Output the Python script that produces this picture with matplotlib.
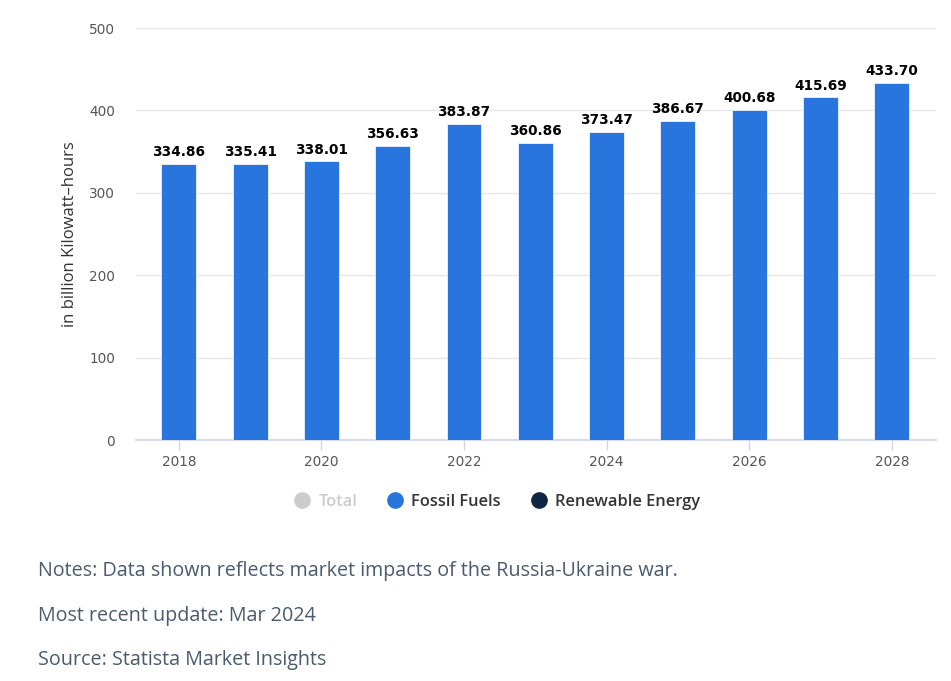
import matplotlib
matplotlib.use("Agg")
import matplotlib.pyplot as plt
from matplotlib.lines import Line2D

years = [2018, 2019, 2020, 2021, 2022, 2023, 2024, 2025, 2026, 2027, 2028]
fossil_fuels = [334.86, 335.41, 338.01, 356.63, 383.87, 360.86, 373.47, 386.67, 400.68, 415.69, 433.70]
y_ticks = [0, 100, 200, 300, 400, 500]
x_ticks = [2018, 2020, 2022, 2024, 2026, 2028]
legend_labels = ["Total", "Fossil Fuels", "Renewable Energy"]
legend_colors = ["#cccccc", "#2876dd", "#0f2541"]
notes = ["Notes: Data shown reflects market impacts of the Russia-Ukraine war.",
         "Most recent update: Mar 2024",
         "Source: Statista Market Insights"]

plt.rcParams['font.family'] = ['Open Sans', 'DejaVu Sans']

fig = plt.figure(figsize=(9.51, 6.81), dpi=100)
ax = fig.add_axes([136/951, 1-440/681, (936-136)/951, (440-28)/681])

bars = ax.bar(years, fossil_fuels, width=0.49, color="#2876dd", edgecolor="white", linewidth=0.5, zorder=3)
for x, v in zip(years, fossil_fuels):
    ax.text(x, v + 6, f"{v:.2f}", ha="center", va="bottom", fontsize=9.8, fontweight="bold",
            color="#000000", zorder=4, family=['DejaVu Sans'])

ax.set_ylim(0, 500)
ax.set_xlim(2018 - 0.6, 2028 + 0.62)
ax.set_yticks(y_ticks)
ax.set_xticks(x_ticks)
ax.yaxis.grid(True, color="#e6e6e6", linewidth=1, zorder=0)
ax.set_axisbelow(True)
for s in ["top", "right", "left"]:
    ax.spines[s].set_visible(False)
ax.spines["bottom"].set_color("#ccd6eb")
ax.spines["bottom"].set_linewidth(1.2)
ax.tick_params(axis="y", length=0, pad=15, labelsize=10.5, labelcolor="#555555")
ax.tick_params(axis="x", length=7, width=1, color="#ccd6eb", pad=4, labelsize=10.5, labelcolor="#555555")
for lbl in ax.get_xticklabels() + ax.get_yticklabels():
    lbl.set_fontfamily(['DejaVu Sans'])
    lbl.set_fontsize(9.8)
ax.set_ylabel("in billion Kilowatt\u2013hours", fontsize=12, color="#333333", labelpad=8)

handles = [Line2D([0], [0], marker="o", linestyle="none", markersize=11,
                  markerfacecolor=c, markeredgecolor=c) for c in legend_colors]
leg = fig.legend(handles, legend_labels, loc="center", bbox_to_anchor=(497/951, 1-502/681),
                 ncol=3, frameon=False, handlelength=1.0, handletextpad=0.5, columnspacing=1.8,
                 prop={'weight': 'semibold', 'size': 11.8})
for t, c in zip(leg.get_texts(), ["#cccccc", "#333333", "#333333"]):
    t.set_color(c)

for i, n in enumerate(notes):
    fig.text(38/951, 1-(571 + i*44.5)/681, n, ha="left", va="center", fontsize=14.2, color="#4a5b6f")

fig.savefig("out.png", dpi=100)
